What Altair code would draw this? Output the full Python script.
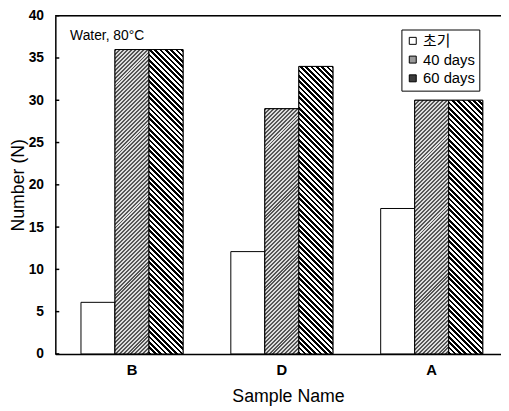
import altair as alt
import pandas as pd

# ---- data ----
samples = ["B", "D", "A"]
series = ["초기", "40 days", "60 days"]
initial = [6.1, 12.1, 17.2]
days40 = [36, 29, 30]
days60 = [36, 34, 30]
y_ticks = [0, 5, 10, 15, 20, 25, 30, 35, 40]

# ---- layout / style ----
PLOT_W, PLOT_H = 452, 343
Y_MAX = 40
PAD_INNER, PAD_OUTER, ALIGN = 0.319, 0.1465, 0.584
FONT = "'Liberation Sans', 'Noto Sans CJK KR', Arial, sans-serif"

rows = []
for s, a, b, c in zip(samples, initial, days40, days60):
    rows.append({"sample": s, "series": series[0], "value": a})
    rows.append({"sample": s, "series": series[1], "value": b})
    rows.append({"sample": s, "series": series[2], "value": c})
df = pd.DataFrame(rows)

step = PLOT_W / (len(samples) - PAD_INNER + 2 * PAD_OUTER)
bar_w = step * (1 - PAD_INNER) / len(series)


def hatch(w, h, period, frac, color, back, direction):
    n = (w + h) / period
    stops = []
    i = 0
    while i < n:
        a = i / n
        b = min((i + frac) / n, 1.0)
        c = min((i + 1) / n, 1.0)
        stops += [
            {"offset": a, "color": color},
            {"offset": b, "color": color},
            {"offset": b, "color": back},
            {"offset": c, "color": back},
        ]
        i += 1
    k = (w + h) / (w * w + h * h)
    if direction == "/":
        x1, y1, x2, y2 = 0, 0, w * k, h * k
    else:
        x1, y1, x2, y2 = 0, 1, w * k, 1 - h * k
    return {"gradient": "linear", "x1": x1, "y1": y1, "x2": x2, "y2": y2, "stops": stops}


x_enc = alt.X(
    "sample:N",
    sort=samples,
    scale=alt.Scale(paddingInner=PAD_INNER, paddingOuter=PAD_OUTER, align=ALIGN),
    title="Sample Name",
    axis=alt.Axis(
        labelAngle=0, ticks=False, tickSize=0, labelPadding=9,
        labelFontSize=15, labelFontWeight="bold", labelFont=FONT, labelColor="black",
        titleFontSize=18, titleFontWeight="normal", titleFont=FONT, titleColor="black",
        titlePadding=10, titleX=236, domainColor="black", domainWidth=1.5,
    ),
)
xoff_enc = alt.XOffset("series:N", sort=series, scale=alt.Scale(domain=series, paddingInner=0, paddingOuter=0))
y_enc = alt.Y(
    "value:Q",
    scale=alt.Scale(domain=[0, Y_MAX], nice=False),
    title="Number (N)",
    axis=alt.Axis(
        values=y_ticks, ticks=False, tickSize=0, labelPadding=12, grid=False,
        labelFontSize=14, labelFontWeight="bold", labelFont=FONT, labelColor="black",
        titleFontSize=18, titleFontWeight="normal", titleFont=FONT, titleColor="black",
        titlePadding=1, domainColor="black", domainWidth=1.5,
    ),
)

base = alt.Chart(df).mark_bar(stroke="black", strokeWidth=1).encode(
    x=x_enc,
    xOffset=xoff_enc,
    y=y_enc,
    fill=alt.Fill(
        "series:N",
        sort=series,
        scale=alt.Scale(domain=series, range=["white", "#9a9a9a", "#3c3c3c"]),
        legend=alt.Legend(
            title=None, orient="none", legendX=351, legendY=14,
            strokeColor="black", fillColor="white", padding=4,
            symbolType="square", symbolSize=50, symbolStrokeColor="black", symbolStrokeWidth=1,
            labelFontSize=15, labelFont=FONT, labelColor="black", labelOffset=3, rowPadding=3,
        ),
    ),
)

layers = [base]
styles = {
    series[1]: dict(period=4.0, frac=0.5, color="#555555", back="#dcdcdc", direction="/"),
    series[2]: dict(period=5.4, frac=0.5, color="black", back="white", direction="\\"),
}
for ser, vals in ((series[1], days40), (series[2], days60)):
    for s, v in zip(samples, vals):
        h = v * PLOT_H / Y_MAX
        g = hatch(bar_w, h, **styles[ser])
        layers.append(
            alt.Chart(df)
            .transform_filter((alt.datum.sample == s) & (alt.datum.series == ser))
            .mark_bar(fill=g, stroke="black", strokeWidth=1)
            .encode(x=x_enc, xOffset=xoff_enc, y=y_enc)
        )

tick_df = pd.DataFrame({"v": y_ticks})
ticks = alt.Chart(tick_df).mark_rule(color="black", strokeWidth=1.5).encode(
    y=alt.Y("v:Q"), x=alt.value(0), x2=alt.value(4)
)
top_line = alt.Chart(pd.DataFrame({"v": [Y_MAX]})).mark_rule(color="black", strokeWidth=1.5).encode(
    y=alt.Y("v:Q")
)
note = alt.Chart(pd.DataFrame({"t": ["Water, 80°C"]})).mark_text(
    align="left", baseline="middle", fontSize=14, font=FONT, color="black"
).encode(text="t:N", x=alt.value(15), y=alt.value(21))

chart = (
    alt.layer(*layers, ticks, top_line, note)
    .properties(
        width=PLOT_W,
        height=PLOT_H,
        autosize=alt.AutoSizeParams(type="none"),
        padding={"left": 48, "top": 5, "right": 0, "bottom": 50},
    )
    .configure_view(stroke=None)
    .configure(background="white")
)

chart.save("out.html", embed_options={"renderer": "svg", "actions": False})
